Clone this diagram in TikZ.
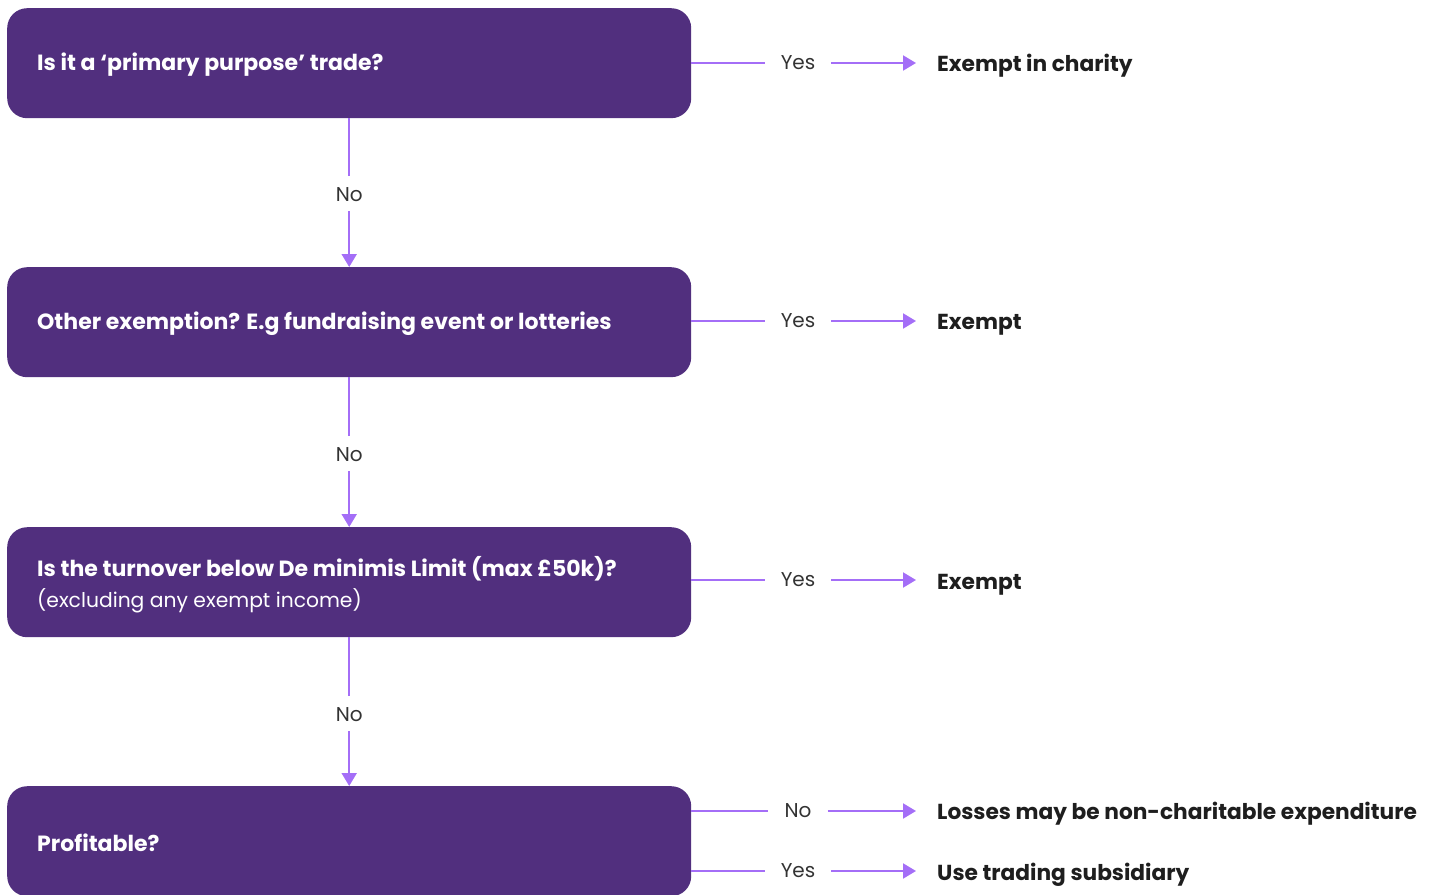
\documentclass[tikz,border=0pt]{standalone}
\usepackage{fontspec}
\setmainfont{Poppins}
\usetikzlibrary{arrows.meta}
\definecolor{boxpurple}{HTML}{512F7E}
\definecolor{linepurple}{HTML}{A46EF7}
\definecolor{darktext}{HTML}{1E1E1E}
\definecolor{labeltext}{HTML}{333333}
\tikzset{
  qbox/.style={draw=none, fill=boxpurple, rounded corners=20pt, minimum width=684pt, minimum height=110pt, inner sep=0pt},
  qtext/.style={anchor=west, text=white, font=\fontsize{22}{26}\selectfont\bfseries, inner sep=0pt, align=left},
  lbl/.style={text=labeltext, font=\fontsize{20}{24}\selectfont, inner sep=0pt},
  res/.style={anchor=west, text=darktext, font=\fontsize{21.7}{26}\selectfont\bfseries, inner sep=0pt},
  conn/.style={draw=linepurple, line width=2pt},
  arr/.style={conn, -{Triangle[length=13pt,width=15pt]}},
}
\begin{document}
\begin{tikzpicture}[x=1pt,y=-1pt]
\useasboundingbox (0,0) rectangle (1434,894);
% boxes
\node[qbox, anchor=north west] (b1) at (7,8) {};
\node[qbox, anchor=north west] (b2) at (7,267) {};
\node[qbox, anchor=north west] (b3) at (7,527) {};
\node[qbox, anchor=north west] (b4) at (7,786) {};
% box texts
\node[qtext] (t1) at (37,65) {Is it a ‘primary purpose’ trade?};
\node[qtext] (t2) at (37,324) {Other exemption? E.g fundraising event or lotteries};
\node[qtext] (t3a) at (37,569) {Is the turnover below De minimis Limit (max £50k)?};
\node[anchor=west, text=white, font=\fontsize{20.3}{24}\selectfont, inner sep=0pt] (t3b) at (37,601) {(excluding any exempt income)};
\node[qtext] (t4) at (37,843) {Profitable?};
% vertical No labels
\node[lbl] (n1) at ([yshift=-76pt]b1.south) {No};
\node[lbl] (n2) at ([yshift=-77pt]b2.south) {No};
\node[lbl] (n3) at ([yshift=-77pt]b3.south) {No};
\draw[conn] (b1.south) -- ([yshift=18pt]n1.center);
\draw[arr] ([yshift=-17pt]n1.center) -- (b2.north);
\draw[conn] (b2.south) -- ([yshift=18pt]n2.center);
\draw[arr] ([yshift=-17pt]n2.center) -- (b3.north);
\draw[conn] (b3.south) -- ([yshift=18pt]n3.center);
\draw[arr] ([yshift=-17pt]n3.center) -- (b4.north);
% horizontal labels
\node[lbl] (y1) at (798,63) {Yes};
\node[lbl] (y2) at (798,321) {Yes};
\node[lbl] (y3) at (798,580) {Yes};
\node[lbl] (y4n) at (798,811) {No};
\node[lbl] (y4y) at (798,871) {Yes};
% results
\node[res] (r1) at (937,66) {Exempt in charity};
\node[res] (r2) at (937,325) {Exempt};
\node[res] (r3) at (937,585) {Exempt};
\node[res] (r4) at (937,814) {Losses may be non-charitable expenditure};
\node[res] (r5) at (937,875) {Use trading subsidiary};
% connector ends
\coordinate (c1) at (b1.east |- y1);
\coordinate (c2) at (b2.east |- y2);
\coordinate (c3) at (b3.east |- y3);
\coordinate (c4) at (b4.east |- y4n);
\coordinate (c5) at (b4.east |- y4y);
\coordinate (e1) at (916,0 |- y1);
\coordinate (e2) at (916,0 |- y2);
\coordinate (e3) at (916,0 |- y3);
\coordinate (e4) at (916,0 |- y4n);
\coordinate (e5) at (916,0 |- y4y);
\draw[conn] (c1) -- ([xshift=-16pt]y1.west);
\draw[arr] ([xshift=16pt]y1.east) -- (e1);
\draw[conn] (c2) -- ([xshift=-16pt]y2.west);
\draw[arr] ([xshift=16pt]y2.east) -- (e2);
\draw[conn] (c3) -- ([xshift=-16pt]y3.west);
\draw[arr] ([xshift=16pt]y3.east) -- (e3);
\draw[conn] (c4) -- ([xshift=-16pt]y4n.west);
\draw[arr] ([xshift=16pt]y4n.east) -- (e4);
\draw[conn] (c5) -- ([xshift=-16pt]y4y.west);
\draw[arr] ([xshift=16pt]y4y.east) -- (e5);
\end{tikzpicture}
\end{document}
